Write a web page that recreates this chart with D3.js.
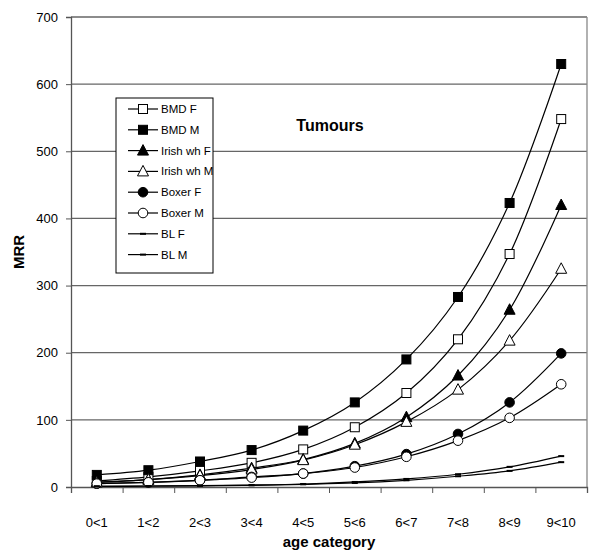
<!DOCTYPE html>
<html>
<head>
<meta charset="utf-8">
<script src="https://cdn.jsdelivr.net/npm/d3@7"></script>
<style>
  body { margin: 0; background: #fff; }
  svg { font-family: Arial, "Liberation Sans", sans-serif; }
</style>
</head>
<body>
<div id="chart"></div>
<script>
// age categories on the x axis
const categories = ['0<1', '1<2', '2<3', '3<4', '4<5', '5<6', '6<7', '7<8', '8<9', '9<10'];
const yTicks = [0, 100, 200, 300, 400, 500, 600, 700];

// MRR per breed and sex
const bmdF = [9, 15, 24, 36, 56, 89, 140, 220, 347, 548];
const bmdM = [18, 25, 38, 55, 84, 126, 190, 283, 423, 630];
const irishF = [7, 11, 18, 28, 41, 65, 104, 166, 264, 420];
const irishM = [7, 11, 17, 26, 40, 63, 97, 145, 218, 325];
const boxerF = [5, 7, 10, 15, 20, 31, 49, 79, 126, 199];
const boxerM = [5, 7, 10, 14, 20, 29, 45, 69, 103, 153];
const blF = [1, 1.5, 2, 3, 4.5, 7.5, 12, 19, 30, 46];
const blM = [0.8, 1.2, 1.8, 2.5, 4, 6, 10, 16, 24, 37];

const seriesNames = ['BMD F', 'BMD M', 'Irish wh F', 'Irish wh M', 'Boxer F', 'Boxer M', 'BL F', 'BL M'];
const seriesValues = [bmdF, bmdM, irishF, irishM, boxerF, boxerM, blF, blM];
const seriesMarkers = ['squareOpen', 'square', 'triangle', 'triangleOpen', 'circle', 'circleOpen', 'dash', 'dash'];

const width = 600, height = 552;
const margin = { top: 17, right: 13, bottom: 65, left: 71 };
const plotW = width - margin.left - margin.right;
const plotH = height - margin.top - margin.bottom;

const svg = d3.select('#chart').append('svg')
    .attr('width', width)
    .attr('height', height);

const g = svg.append('g')
    .attr('transform', `translate(${margin.left},${margin.top})`);

const xScale = d3.scaleBand().domain(categories).range([0, plotW]);
const xTickScale = d3.scaleLinear().domain([0, categories.length]).range([0, plotW]);
const yScale = d3.scaleLinear().domain([0, 700]).range([plotH, 0]);

// gridlines
g.append('g').selectAll('line')
    .data(yTicks.filter(d => d > 0))
    .join('line')
    .attr('x1', 0).attr('x2', plotW)
    .attr('y1', d => yScale(d)).attr('y2', d => yScale(d))
    .attr('stroke', '#666').attr('stroke-width', 1.3);

// right border of plot area
g.append('line')
    .attr('x1', plotW).attr('x2', plotW)
    .attr('y1', 0).attr('y2', plotH)
    .attr('stroke', '#888').attr('stroke-width', 1.3);

// axes
const yAxisG = g.append('g')
    .call(d3.axisLeft(yScale).tickValues(yTicks).tickSize(5).tickPadding(8));
yAxisG.select('.domain').attr('stroke', '#555').attr('stroke-width', 1.3);
yAxisG.selectAll('.tick line').attr('stroke', '#555');
yAxisG.selectAll('.tick text').attr('font-size', 13).attr('fill', '#000')
    .style('font-family', 'Arial, "Liberation Sans", sans-serif');

const xAxisG = g.append('g')
    .attr('transform', `translate(0,${plotH})`)
    .call(d3.axisBottom(xTickScale).tickValues(d3.range(categories.length + 1)).tickSize(6).tickFormat(''));
xAxisG.select('.domain').attr('stroke', '#555').attr('stroke-width', 1.3);
xAxisG.selectAll('.tick line').attr('stroke', '#555');

g.append('g').selectAll('text')
    .data(categories)
    .join('text')
    .attr('x', d => xScale(d) + xScale.bandwidth() / 2)
    .attr('y', plotH + 40)
    .attr('text-anchor', 'middle')
    .attr('font-size', 13)
    .text(d => d);

// axis titles
svg.append('text')
    .attr('x', margin.left + plotW / 2)
    .attr('y', 547)
    .attr('text-anchor', 'middle')
    .attr('font-size', 15).attr('font-weight', 'bold')
    .text('age category');

svg.append('text')
    .attr('transform', `translate(24,${margin.top + plotH / 2}) rotate(-90)`)
    .attr('text-anchor', 'middle')
    .attr('font-size', 15).attr('font-weight', 'bold')
    .text('MRR');

// chart title inside plot
svg.append('text')
    .attr('x', 330).attr('y', 131)
    .attr('text-anchor', 'middle')
    .attr('font-size', 16).attr('font-weight', 'bold')
    .text('Tumours');

// marker drawing helper
function drawMarker(sel, type) {
    if (type === 'square' || type === 'squareOpen') {
        sel.append('rect')
            .attr('x', -4.5).attr('y', -4.5).attr('width', 9).attr('height', 9)
            .attr('fill', type === 'square' ? '#000' : '#fff')
            .attr('stroke', '#000').attr('stroke-width', 1);
    } else if (type === 'triangle' || type === 'triangleOpen') {
        sel.append('path')
            .attr('d', 'M0,-6L5.5,4.5L-5.5,4.5Z')
            .attr('fill', type === 'triangle' ? '#000' : '#fff')
            .attr('stroke', '#000').attr('stroke-width', 1);
    } else if (type === 'circle' || type === 'circleOpen') {
        sel.append('circle')
            .attr('r', 4.8)
            .attr('fill', type === 'circle' ? '#000' : '#fff')
            .attr('stroke', '#000').attr('stroke-width', 1);
    } else {
        sel.append('rect')
            .attr('x', -3).attr('y', -1).attr('width', 6).attr('height', 2)
            .attr('fill', '#000');
    }
}

const line = d3.line()
    .x((d, i) => xScale(categories[i]) + xScale.bandwidth() / 2)
    .y(d => yScale(d))
    .curve(d3.curveCatmullRom.alpha(0.5));

// all lines first, then the markers on top
const seriesG = g.append('g');
seriesValues.forEach(vals => {
    seriesG.append('path')
        .attr('d', line(vals))
        .attr('fill', 'none')
        .attr('stroke', '#000')
        .attr('stroke-width', 1.2);
});
seriesValues.forEach((vals, s) => {
    seriesG.append('g').selectAll('g')
        .data(vals)
        .join('g')
        .attr('transform', (d, i) => `translate(${xScale(categories[i]) + xScale.bandwidth() / 2},${yScale(d)})`)
        .each(function () { drawMarker(d3.select(this), seriesMarkers[s]); });
});

// legend
const legend = svg.append('g').attr('transform', 'translate(116,98)');
legend.append('rect')
    .attr('width', 97).attr('height', 175)
    .attr('fill', '#fff').attr('stroke', '#000').attr('stroke-width', 1);

const legendItems = legend.selectAll('.legend-item')
    .data(seriesNames)
    .join('g')
    .attr('class', 'legend-item')
    .attr('transform', (d, i) => `translate(0,${11 + i * 20.8})`);

legendItems.append('line')
    .attr('x1', 12).attr('x2', 42)
    .attr('stroke', '#000').attr('stroke-width', 1.2);

legendItems.append('g')
    .attr('transform', 'translate(27,0)')
    .each(function (d, i) { drawMarker(d3.select(this), seriesMarkers[i]); });

legendItems.append('text')
    .attr('x', 45).attr('dy', '0.35em')
    .attr('font-size', 11.5)
    .text(d => d);
</script>
</body>
</html>
